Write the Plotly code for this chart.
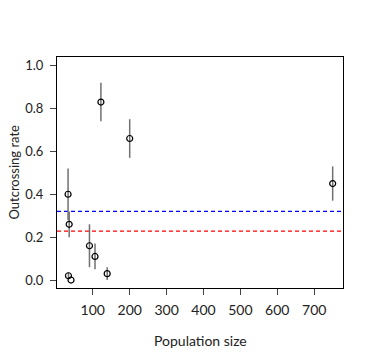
import plotly.graph_objects as go

# Data
population = [33, 36, 34, 41, 91, 106, 139, 122, 200, 750]
outcrossing = [0.40, 0.26, 0.02, 0.00, 0.16, 0.11, 0.03, 0.83, 0.66, 0.45]
err_up = [0.12, 0.06, 0.015, 0.0, 0.10, 0.06, 0.03, 0.09, 0.09, 0.08]
err_down = [0.12, 0.06, 0.015, 0.0, 0.10, 0.06, 0.03, 0.09, 0.09, 0.08]
ref_lines = [0.32, 0.228]
ref_colors = ["#0000ff", "#ff0000"]
x_ticks = [100, 200, 300, 400, 500, 600, 700]
y_ticks = [0.0, 0.2, 0.4, 0.6, 0.8, 1.0]
x_title = "Population size"
y_title = "Outcrossing rate"

FONT = "Lato"
TXT = "#222222"
FS = 14

fig = go.Figure()

for val, col in zip(ref_lines, ref_colors):
    fig.add_hline(y=val, line=dict(color=col, width=1.2, dash="4px,3px"), layer="below")

fig.add_trace(go.Scatter(
    x=population, y=outcrossing, mode="markers",
    marker=dict(symbol="circle-open", size=6, color="black", line=dict(width=1.2, color="black")),
    error_y=dict(type="data", symmetric=False, array=err_up, arrayminus=err_down,
                 color="#707070", thickness=1.5, width=0),
    showlegend=False,
))

axis_common = dict(
    showline=True, mirror=True, linecolor="black", linewidth=1,
    ticks="outside", ticklen=6, tickcolor="#444", tickwidth=1,
    showgrid=False, zeroline=False, automargin=False,
)

fig.update_layout(
    width=365, height=352,
    margin=dict(l=49, r=30, t=49, b=72),
    paper_bgcolor="white", plot_bgcolor="white",
    font=dict(family=FONT, size=FS, color=TXT),
    xaxis=dict(range=[3, 778], tickvals=x_ticks, ticklabelstandoff=3,
               tickfont=dict(family=FONT, size=FS, color=TXT), **axis_common),
    yaxis=dict(range=[-0.037, 1.04], tickvals=y_ticks, tickformat=".1f", ticklabelstandoff=4,
               tickfont=dict(family=FONT, size=13, color=TXT), **axis_common),
)

fig.add_annotation(text=x_title, xref="paper", yref="paper", x=0.5, y=0,
                   xanchor="center", yanchor="middle", yshift=-52, showarrow=False,
                   font=dict(family=FONT, size=FS, color=TXT))
fig.add_annotation(text=y_title, xref="paper", yref="paper", x=0, y=0.5, textangle=-90,
                   xanchor="center", yanchor="middle", xshift=-44, showarrow=False,
                   borderpad=0, font=dict(family=FONT, size=13, color=TXT))

fig.write_html("out.html")
